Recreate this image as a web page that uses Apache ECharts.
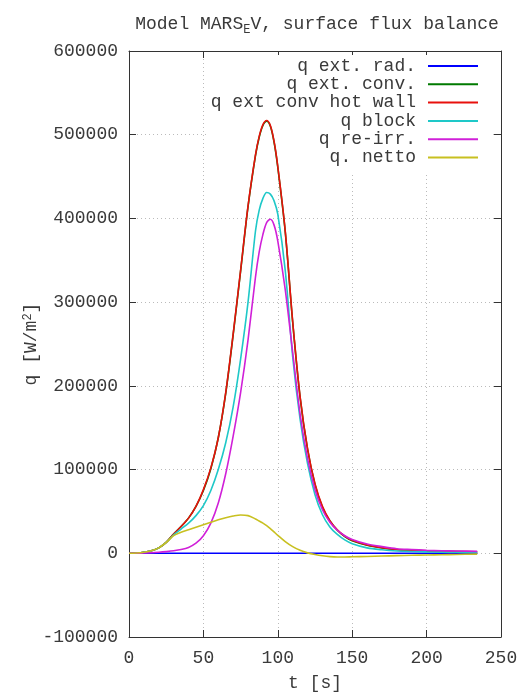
<!DOCTYPE html>
<html>
<head>
<meta charset="utf-8">
<script src="https://cdn.jsdelivr.net/npm/echarts@6/dist/echarts.min.js"></script>
<style>
html,body{margin:0;padding:0;background:#fff;}
#chart{width:517px;height:693px;}
</style>
</head>
<body>
<div id="chart"></div>
<script>
// time [s]
const tSec = [0,5,10,15,20,25,30,35,40,45,50,55,60,65,70,75,80,85,87.5,90,92.5,95,97.5,100,105,110,115,120,125,130,135,140,145,150,160,170,180,190,200,210,220,234];
// q ext. rad. [W/m^2]
const qExtRad = [0,0,0,0,0,0,0,0,0,0,0,0,0,0,0,0,0,0,0,0,0,0,0,0,0,0,0,0,0,0,0,0,0,0,0,0,0,0,0,0,0,0];
// q ext. conv.
const qExtConv = [0,300,1200,3000,6500,13000,23000,32000,42000,56000,75000,101000,138000,191000,261000,337000,414000,475000,497000,511000,516000,510000,491000,461000,384000,276000,186000,124000,82000,55000,38500,27500,20000,15000,9700,6500,4500,3500,2800,2300,2000,1600];
// q ext conv hot wall
const qExtConvHot = [0,300,1200,3000,6500,13000,23000,32000,42000,56000,76000,102000,138000,192000,262000,338000,415000,476000,498000,512000,517000,511000,492000,462000,385000,277000,187000,125000,83000,56000,39000,28000,20500,15500,10000,6800,4600,3600,2900,2400,2100,1700];
// q block
const qBlock = [0,300,1200,3000,6500,13000,22000,29000,36000,45000,57000,75000,100000,132000,175000,232000,300000,385000,410000,424000,431000,429000,421000,405000,338000,235000,160000,107000,70000,46000,31500,22500,16000,11500,6500,4200,2800,2200,1700,1400,1200,1000];
// q re-irr.
const qReIrr = [0,100,300,600,1200,2000,3000,4500,7000,12000,21000,36000,60000,95000,140000,192000,255000,330000,360000,381000,395000,399000,392000,373000,315000,240000,166000,113000,76000,52000,37000,27500,21000,16500,11000,8000,5500,4500,3600,3000,2700,2300];
// q. netto
const qNetto = [0,300,1200,3000,6500,13000,21000,25000,28000,31000,34000,37000,40000,42500,44500,45800,45000,41000,38500,36000,33000,29500,25500,21500,14000,8000,3500,500,-1500,-3000,-4000,-4400,-4400,-4200,-3800,-3300,-2800,-2400,-2000,-1700,-1400,-1000];

const seriesNames = ['q ext. rad.','q ext. conv.','q ext conv hot wall','q block','q re-irr.','q. netto'];
const seriesValues = [qExtRad, qExtConv, qExtConvHot, qBlock, qReIrr, qNetto];
const seriesColors = ['#0000ff','#007a00','#e8100c','#1ec8c8','#d020d8','#c8c020'];

const xTicks = {min:0, max:250, interval:50};
const yTicks = {min:-100000, max:600000, interval:100000};

const FONT = "'Liberation Mono','Courier New',monospace";
const TXT = '#3a3a3a';
const FS = 18;

const chart = echarts.init(document.getElementById('chart'), null, {renderer:'canvas'});

const series = seriesNames.map((name, k) => ({
  name: name,
  type: 'line',
  symbol: 'none',
  smooth: 0.3,
  z: 3 + k,
  lineStyle: {color: seriesColors[k], width: 1.6},
  itemStyle: {color: seriesColors[k]},
  data: tSec.map((t, i) => [t, seriesValues[k][i]])
}));

const option = {
  backgroundColor: '#fff',
  animation: false,
  title: {
    text: 'Model MARS{sub|E}V, surface flux balance',
    left: 312, textAlign: 'center',
    top: 8,
    textStyle: {
      fontFamily: FONT, fontSize: FS, fontWeight: 'normal', color: TXT,
      rich: {
        sub: {fontFamily: FONT, fontSize: 12, color: TXT, verticalAlign: 'bottom', padding: [11,0,0,0]}
      }
    }
  },
  legend: {
    orient: 'vertical',
    align: 'right',
    right: 27,
    top: 55,
    z: 1,
    backgroundColor: '#fff',
    padding: [2, 11, 8, 2],
    itemWidth: 50,
    itemHeight: 2,
    itemGap: 0.3,
    itemStyle: {opacity: 0},
    textStyle: {fontFamily: FONT, fontSize: FS, color: TXT, lineHeight: 18, padding: [0, 7, 0, 0]},
    data: seriesNames
  },
  grid: {left: 129, right: 16, top: 51, bottom: 56, containLabel: false, outerBoundsMode: 'none'},
  xAxis: [{
    type: 'value', min: xTicks.min, max: xTicks.max, interval: xTicks.interval,
    name: 't [s]', nameLocation: 'middle', nameGap: 37,
    nameTextStyle: {fontFamily: FONT, fontSize: FS, color: TXT},
    axisLine: {show: true, onZero: false, lineStyle: {color: '#333', width: 1}},
    axisTick: {show: true, inside: true, length: 7, lineStyle: {color: '#333'}},
    axisLabel: {fontFamily: FONT, fontSize: FS, color: TXT, margin: 12},
    splitLine: {show: true, lineStyle: {color: '#bbbbbb', type: [1, 3], width: 1}}
  }, {
    type: 'value', position: 'top', min: xTicks.min, max: xTicks.max, interval: xTicks.interval,
    axisLine: {show: true, onZero: false, lineStyle: {color: '#333', width: 1}},
    axisTick: {show: true, inside: true, length: 7, lineStyle: {color: '#333'}},
    axisLabel: {show: false},
    splitLine: {show: false}
  }],
  yAxis: [{
    type: 'value', min: yTicks.min, max: yTicks.max, interval: yTicks.interval,
    name: 'q [W/m{sup|2}]', nameLocation: 'middle', nameGap: 88, nameRotate: 90,
    nameMoveOverlap: false,
    nameTextStyle: {fontFamily: FONT, fontSize: FS, color: TXT,
      rich: {sup: {fontFamily: FONT, fontSize: 12, color: TXT, verticalAlign: 'top', padding: [0,0,7,0]}}},
    axisLine: {show: true, onZero: false, lineStyle: {color: '#333', width: 1}},
    axisTick: {show: true, inside: true, length: 7, lineStyle: {color: '#333'}},
    axisLabel: {fontFamily: FONT, fontSize: FS, color: TXT, margin: 11, formatter: v => String(v)},
    splitLine: {show: true, lineStyle: {color: '#bbbbbb', type: [1, 3], width: 1}}
  }, {
    type: 'value', position: 'right', min: yTicks.min, max: yTicks.max, interval: yTicks.interval,
    axisLine: {show: true, onZero: false, lineStyle: {color: '#333', width: 1}},
    axisTick: {show: true, inside: true, length: 7, lineStyle: {color: '#333'}},
    axisLabel: {show: false},
    splitLine: {show: false}
  }],
  series: series
};
chart.setOption(option);
</script>
</body>
</html>
